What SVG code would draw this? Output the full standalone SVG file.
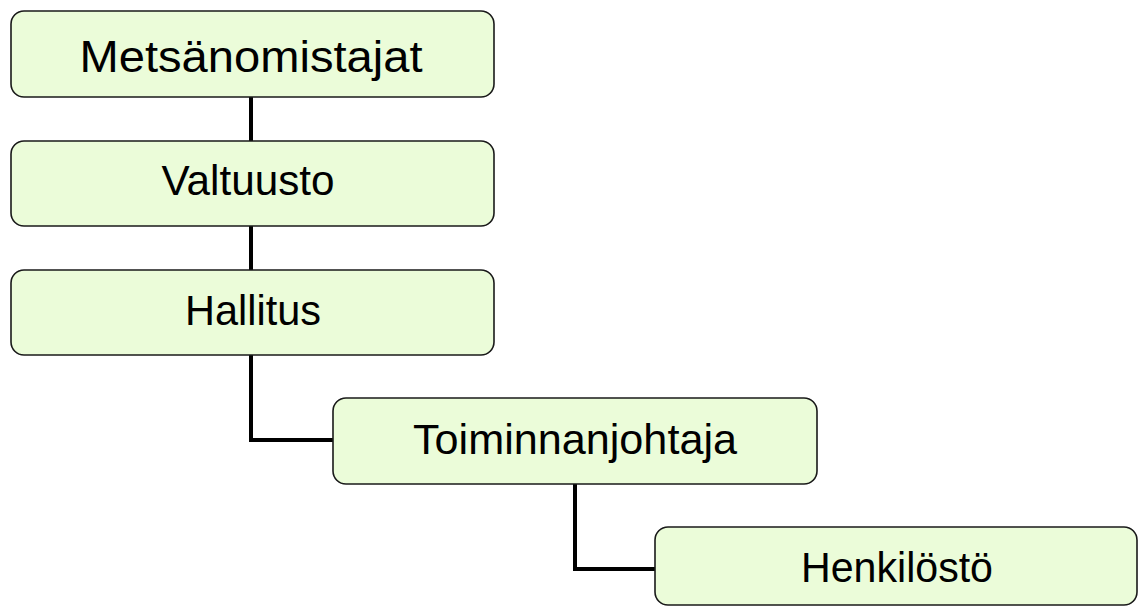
<svg xmlns="http://www.w3.org/2000/svg" width="1138" height="606" viewBox="0 0 1138 606">
  <style>
    .box { fill: #ebfcd9; stroke: #1a1a1a; stroke-width: 1.6; }
    .lbl { font-family: "Liberation Sans", Arial, sans-serif; fill: #000; text-anchor: middle; font-size: 42px; }
    .conn { fill: none; stroke: #000; stroke-width: 4; stroke-linejoin: miter; }
  </style>
  <rect width="1138" height="606" fill="#ffffff"/>
  <!-- connectors -->
  <g id="connectors">
    <path class="conn" d="M251,97 V141"/>
    <path class="conn" d="M251,226 V270"/>
    <path class="conn" d="M251,355 V440 H333"/>
    <path class="conn" d="M575,484 V569 H655"/>
  </g>
  <g id="node-metsanomistajat">
    <rect class="box" x="11" y="11" width="483" height="86" rx="13"/>
    <text class="lbl" x="251" y="72" style="font-size:44px" textLength="343" lengthAdjust="spacingAndGlyphs">Metsänomistajat</text>
  </g>
  <g id="node-valtuusto">
    <rect class="box" x="11" y="141" width="483" height="85" rx="13"/>
    <text class="lbl" x="248" y="195" textLength="173" lengthAdjust="spacingAndGlyphs">Valtuusto</text>
  </g>
  <g id="node-hallitus">
    <rect class="box" x="11" y="270" width="483" height="85" rx="13"/>
    <text class="lbl" x="253" y="325" textLength="136" lengthAdjust="spacingAndGlyphs">Hallitus</text>
  </g>
  <g id="node-toiminnanjohtaja">
    <rect class="box" x="333" y="398" width="484" height="86" rx="13"/>
    <text class="lbl" x="575" y="454" textLength="324" lengthAdjust="spacingAndGlyphs">Toiminnanjohtaja</text>
  </g>
  <g id="node-henkilosto">
    <rect class="box" x="655" y="527" width="482" height="78" rx="13"/>
    <text class="lbl" x="897" y="582" textLength="192" lengthAdjust="spacingAndGlyphs">Henkilöstö</text>
  </g>
</svg>
